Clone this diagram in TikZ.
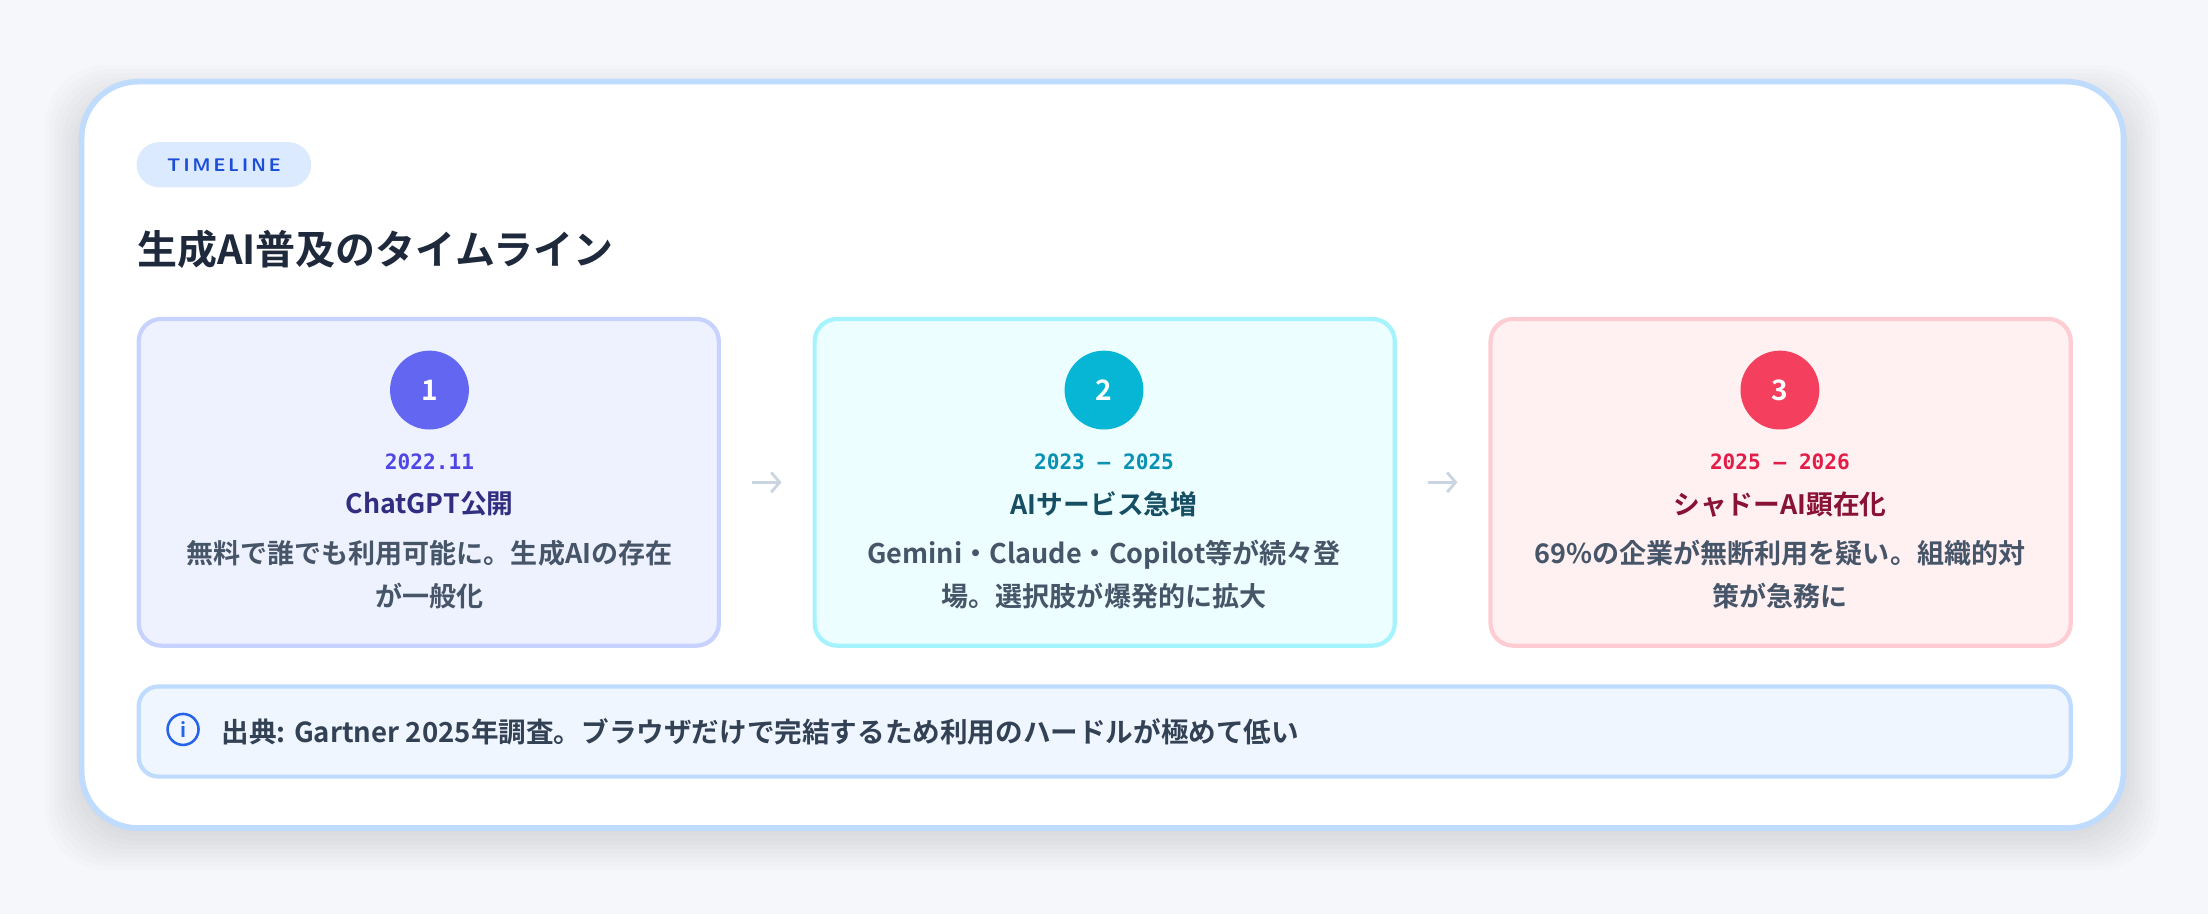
\documentclass[tikz,border=0pt]{standalone}
\usepackage{fontspec}
\setmainfont{Noto Sans CJK JP}
\newfontfamily\cjkbold{Noto Sans CJK JP Bold}
\setmonofont{DejaVu Sans Mono}
\usetikzlibrary{positioning,arrows.meta}
\definecolor{pagebg}{HTML}{F5F7FA}
\definecolor{cardline}{HTML}{BFDBFE}
\definecolor{pillbg}{HTML}{DBEAFE}
\definecolor{pilltext}{HTML}{1D4ED8}
\definecolor{titletext}{HTML}{1E293B}
\definecolor{bodytext}{HTML}{475569}
\definecolor{notetext}{HTML}{334155}
\definecolor{notebg}{HTML}{EFF6FF}
\definecolor{infoblue}{HTML}{2563EB}
\definecolor{arrowgray}{HTML}{CBD5E1}
\definecolor{indigofill}{HTML}{EEF2FF}
\definecolor{indigoline}{HTML}{C7D2FE}
\definecolor{indigodot}{HTML}{6366F1}
\definecolor{indigodate}{HTML}{4F46E5}
\definecolor{indigohead}{HTML}{312E81}
\definecolor{cyanfill}{HTML}{ECFEFF}
\definecolor{cyanline}{HTML}{A5F3FC}
\definecolor{cyandot}{HTML}{06B6D4}
\definecolor{cyandate}{HTML}{0891B2}
\definecolor{cyanhead}{HTML}{164E63}
\definecolor{rosefill}{HTML}{FFF1F2}
\definecolor{roseline}{HTML}{FECDD3}
\definecolor{rosedot}{HTML}{F43F5E}
\definecolor{rosedate}{HTML}{E11D48}
\definecolor{rosehead}{HTML}{881337}
\tikzset{%
    stagebox/.style={draw=#1line,fill=#1fill,line width=1.5pt,rounded corners=8pt,
        minimum width=206pt,minimum height=116pt,anchor=north west},
    stagedot/.style={circle,fill=#1dot,minimum size=28pt,inner sep=0pt,
        text=white,font=\cjkbold\fontsize{10}{10}\selectfont},
    stagedate/.style={text=#1date,font=\ttfamily\bfseries\fontsize{7.5}{8}\selectfont},
    stagehead/.style={text=#1head,font=\cjkbold\fontsize{9.5}{11}\selectfont},
    stagebody/.style={text=bodytext,font=\cjkbold\fontsize{9.6}{15}\selectfont,align=center},
    stepline/.style={-{Straight Barb[length=3pt,width=7pt]},arrowgray,line width=1pt,
        shorten >=11pt,shorten <=11pt}
}
\begin{document}
\begin{tikzpicture}[x=0.5pt,y=-0.5pt]
  \useasboundingbox[fill=pagebg] (0,0) rectangle (1568,649);
  % shadow of the card
  \foreach \s in {2,5,...,26}
    \fill[black,opacity=0.012,rounded corners=22pt] (58-\s,72-\s) rectangle (1508+\s,592+\s);
  \draw[cardline,fill=white,line width=2pt,rounded corners=20pt] (58,58) rectangle (1508,588);

  \node[fill=pillbg,rounded corners=8pt,minimum width=62pt,minimum height=16pt,
    text=pilltext,font=\sffamily\bfseries\fontsize{6.5}{7}\selectfont] (tag) at (159,117)
    {T\,I\,M\,E\,L\,I\,N\,E};
  \node[anchor=west,inner sep=0pt,text=titletext,font=\cjkbold\fontsize{14.2}{16}\selectfont]
    (title) at (97,177) {生成AI普及のタイムライン};

  % stages
  \node[stagebox=indigo] (s1) at (97,225) {};
  \node[stagebox=cyan] (s2) at (577,225) {};
  \node[stagebox=rose] (s3) at (1057,225) {};

  \node[stagedot=indigo] (d1) at (305,277) {1};
  \node[stagedate=indigo] (t1) at (305,328) {2022.11};
  \node[stagehead=indigo] (h1) at (305,358) {ChatGPT公開};
  \node[stagebody] (b1) at (305,408) {無料で誰でも利用可能に。生成AIの存在\\が一般化};

  \node[stagedot=cyan] (d2) at (784,277) {2};
  \node[stagedate=cyan] (t2) at (784,328) {2023 – 2025};
  \node[stagehead=cyan] (h2) at (784,358) {AIサービス急増};
  \node[stagebody] (b2) at (784,408) {Gemini・Claude・Copilot等が続々登\\場。選択肢が爆発的に拡大};

  \node[stagedot=rose] (d3) at (1264,277) {3};
  \node[stagedate=rose] (t3) at (1264,328) {2025 – 2026};
  \node[stagehead=rose] (h3) at (1264,358) {シャドーAI顕在化};
  \node[stagebody] (b3) at (1264,408) {69\%の企業が無断利用を疑い。組織的対\\策が急務に};

  \draw[stepline] (s1.east) -- (s2.west);
  \draw[stepline] (s2.east) -- (s3.west);

  % source note
  \node[draw=cardline,fill=notebg,line width=1.5pt,rounded corners=7pt,anchor=north west,
    minimum width=686pt,minimum height=32pt] (note) at (97,486) {};
  \node[circle,draw=infoblue,line width=0.9pt,minimum size=11pt,inner sep=0pt,text=infoblue,
    font=\cjkbold\fontsize{7}{7}\selectfont] (info) at (130,518) {i};
  \node[anchor=west,inner sep=0pt,text=notetext,font=\cjkbold\fontsize{9.8}{11}\selectfont]
    (src) at (157,520) {出典: Gartner 2025年調査。ブラウザだけで完結するため利用のハードルが極めて低い};
\end{tikzpicture}
\end{document}
